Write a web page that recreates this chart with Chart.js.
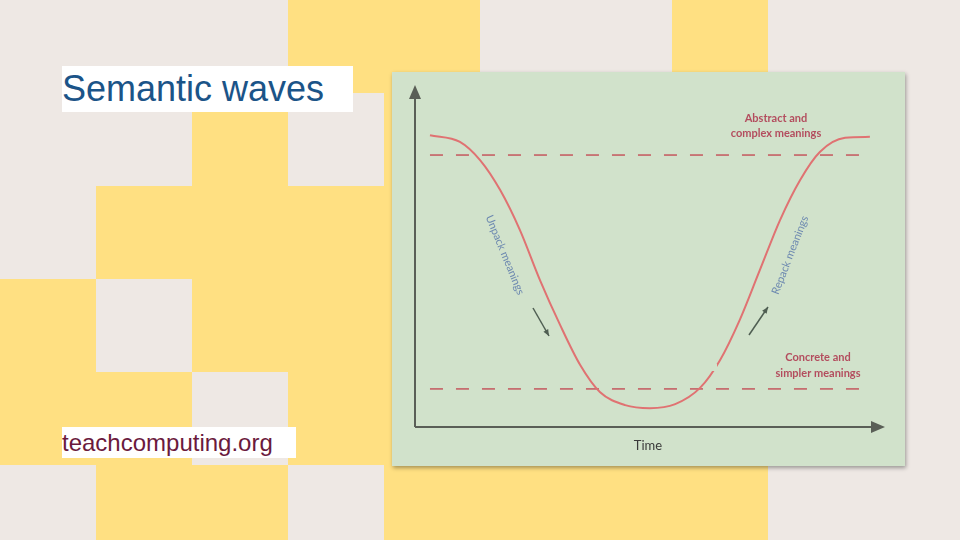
<!DOCTYPE html>
<html><head><meta charset="utf-8">
<script src="https://cdn.jsdelivr.net/npm/chart.js@4/dist/chart.umd.min.js"></script>
<style>
html,body{margin:0;padding:0;width:960px;height:540px;overflow:hidden;background:#EEE8E4;}
#bg{position:absolute;left:0;top:0;width:960px;height:540px;}
.c{position:absolute;background:#FFE082;width:96px;}
#wrap{position:absolute;left:0;top:0;width:960px;height:540px;}
.box{position:absolute;background:#fff;font-family:"Liberation Sans",Arial,sans-serif;white-space:nowrap;}
</style></head><body>
<div id="bg"></div>
<div id="wrap"><canvas id="cv" width="960" height="540"></canvas></div>
<div class="box" style="left:62px;top:66px;width:291px;height:46px;font-size:36px;line-height:46px;color:#1B5488;">Semantic waves</div>
<div class="box" style="left:62px;top:427px;width:234px;height:31px;font-size:24px;line-height:31px;color:#6B1A3D;">teachcomputing.org</div>
<script>
// background tiles: [col,row] yellow
const tiles=[[3,0],[4,0],[7,0],[2,1],[1,2],[2,2],[3,2],[4,2],[0,3],[2,3],[3,3],[4,3],[0,4],[1,4],[3,4],[4,4],[1,5],[2,5],[4,5],[5,5],[6,5],[7,5],[4,1],[5,1],[6,1],[7,1]];
const rowY=[0,93,186,279,372,465,540];
const bg=document.getElementById('bg');
tiles.forEach(([c,r])=>{const d=document.createElement('div');d.className='c';d.style.left=(c*96)+'px';d.style.top=rowY[r]+'px';d.style.height=(rowY[r+1]-rowY[r])+'px';bg.appendChild(d);});

// data (x: time 0-100, y: semantic level 0-100)
const timeX=[3.2,9.6,13.9,18.2,22.4,26.7,31.0,35.3,39.5,44.9,50.2,55.6,60.9,65.2,69.4,73.7,78.0,82.3,86.5,91.9,97.2];
const waveY=[86.6,84.6,79.2,70.3,58.5,43.6,30.3,18.4,10.4,6.5,5.6,6.8,11.6,19.9,31.8,46.6,61.4,73.3,81.6,85.8,86.1];
const upperLevel=80.7, lowerLevel=11.3;
const dashX=[3.2,95.5];
const upperLabel=["Abstract and","complex meanings"];
const lowerLabel=["Concrete and","simpler meanings"];
const axisLabel="Time";

const deco={id:'deco',
beforeDraw(ch){const c=ch.ctx;c.save();c.shadowColor='rgba(0,0,0,0.35)';c.shadowBlur=4;c.shadowOffsetX=1;c.shadowOffsetY=2;c.fillStyle='#D1E2CB';c.fillRect(392,72,513,394);c.restore();},
afterDraw(ch){const c=ch.ctx,x=ch.scales.x,y=ch.scales.y;c.save();
 const L=x.getPixelForValue(0),R=x.getPixelForValue(100),B=y.getPixelForValue(0),T=y.getPixelForValue(100);
 c.strokeStyle='#5A5F57';c.fillStyle='#5A5F57';c.lineWidth=2;
 c.beginPath();c.moveTo(L,B);c.lineTo(L,T+8);c.moveTo(L,B);c.lineTo(R-10,B);c.stroke();
 c.beginPath();c.moveTo(L,T-5);c.lineTo(L-6,T+9);c.lineTo(L+6,T+9);c.fill();
 c.beginPath();c.moveTo(R+2,B);c.lineTo(R-12,B-6);c.lineTo(R-12,B+6);c.fill();
 // small arrows
 c.lineWidth=1.5;c.strokeStyle='#4F5E52';c.fillStyle='#4F5E52';
 const arr=(x1,y1,x2,y2)=>{c.beginPath();c.moveTo(x1,y1);c.lineTo(x2,y2);c.stroke();const a=Math.atan2(y2-y1,x2-x1);c.beginPath();c.moveTo(x2,y2);c.lineTo(x2-7*Math.cos(a-0.4),y2-7*Math.sin(a-0.4));c.lineTo(x2-7*Math.cos(a+0.4),y2-7*Math.sin(a+0.4));c.fill();};
 arr(533,308,549,336);arr(749,335,768,307);
 // gap in curve
 c.fillStyle='#D1E2CB';c.fillRect(707,364,10,7);
 c.font='bold 11px Lato';c.fillStyle='#B34D5E';c.textAlign='center';c.textBaseline='middle';
 c.fillText(upperLabel[0],776,118);c.fillText(upperLabel[1],776,133);
 c.fillText(lowerLabel[0],818,357);c.fillText(lowerLabel[1],818,373);
 c.font='13px Lato';c.fillStyle='#3A3A3A';c.fillText(axisLabel,648,446);
 c.font='11px Lato';c.fillStyle='#6D89B0';
 c.save();c.translate(505,255);c.rotate(1.18);c.fillText("Unpack meanings",0,0);c.restore();
 c.save();c.translate(790,255);c.rotate(-1.2);c.fillText("Repack meanings",0,0);c.restore();
 c.restore();}};

new Chart(document.getElementById('cv'),{type:'scatter',
data:{datasets:[
 {data:timeX.map((v,i)=>({x:v,y:waveY[i]})),showLine:true,borderColor:'#E07272',borderWidth:2,pointRadius:0,tension:0.4,cubicInterpolationMode:'monotone'},
 {data:dashX.map(v=>({x:v,y:upperLevel})),showLine:true,borderColor:'#C4585E',borderWidth:1.5,borderDash:[13,13],pointRadius:0},
 {data:dashX.map(v=>({x:v,y:lowerLevel})),showLine:true,borderColor:'#C4585E',borderWidth:1.5,borderDash:[13,13],pointRadius:0}
]},
options:{responsive:false,animation:false,events:[],layout:{padding:{left:415,right:77,top:90,bottom:113}},
 plugins:{legend:{display:false},tooltip:{enabled:false}},
 scales:{x:{type:'linear',min:0,max:100,display:false},y:{min:0,max:100,display:false}}},
plugins:[deco]});
</script></body></html>
